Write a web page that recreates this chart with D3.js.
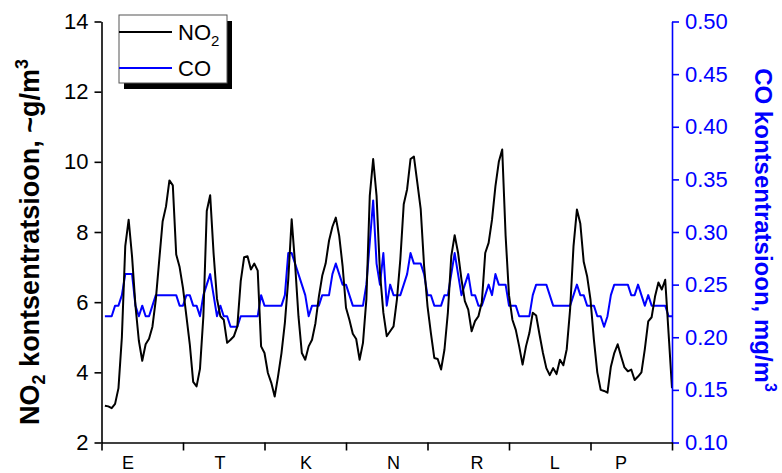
<!DOCTYPE html>
<html>
<head>
<meta charset="utf-8">
<script src="https://cdn.jsdelivr.net/npm/d3@7/dist/d3.min.js"></script>
<style>
  html, body { margin: 0; padding: 0; background: #fff; }
  svg { display: block; font-family: "Liberation Sans", Arial, sans-serif; }
</style>
</head>
<body>
<svg id="chart" width="782" height="473"></svg>
<script>
// Weekday labels (Estonian), one per 24-hour block
const days = ["E", "T", "K", "N", "R", "L", "P"];

// Hourly NO2 concentration over one week (168 hours)
const no2 = [
  3.05, 3.03, 2.98, 3.10, 3.55, 5.00, 7.60, 8.35, 7.30, 5.90, 4.90, 4.33,
  4.80, 4.96, 5.30, 6.08, 7.20, 8.30, 8.73, 9.47, 9.33, 7.36, 7.00, 6.40,
  5.60, 4.80, 3.73, 3.60, 4.10, 5.60, 8.60, 9.05, 7.40, 6.10, 5.60, 5.50,
  4.84, 4.93, 5.03, 5.31, 6.60, 7.28, 7.31, 6.93, 7.10, 6.90, 4.74, 4.55,
  3.98, 3.70, 3.31, 3.89, 4.55, 5.41, 6.65, 8.36, 7.10, 5.60, 4.55, 4.36,
  4.74, 4.93, 5.40, 6.15, 6.75, 7.10, 7.75, 8.15, 8.41, 7.89, 7.03, 5.84,
  5.50, 5.10, 4.95, 4.36, 4.84, 6.08, 9.03, 10.08, 9.03, 6.84, 5.70, 5.03,
  5.17, 5.31, 6.08, 7.22, 8.79, 9.22, 10.08, 10.15, 9.41, 8.65, 7.03, 5.89,
  5.12, 4.41, 4.38, 4.08, 4.65, 5.70, 7.31, 7.91, 7.41, 6.65, 6.03, 5.79,
  5.17, 5.46, 5.60, 6.00, 7.40, 7.69, 8.35, 9.30, 10.00, 10.35, 7.90, 6.20,
  5.50, 5.21, 4.74, 4.22, 4.74, 5.12, 5.70, 5.62, 5.07, 4.55, 4.12, 3.92,
  4.12, 3.95, 4.36, 4.20, 4.66, 5.80, 7.60, 8.64, 8.24, 7.15, 6.74, 6.07,
  4.93, 4.00, 3.50, 3.47, 3.42, 4.16, 4.55, 4.80, 4.46, 4.14, 4.03, 4.08,
  3.78, 3.88, 4.00, 4.66, 5.45, 5.57, 6.16, 6.56, 6.36, 6.64, 5.10, 3.55
];

// Hourly CO concentration over the same week
const co = [
  0.22, 0.22, 0.22, 0.23, 0.23, 0.24, 0.26, 0.26, 0.26, 0.23, 0.22, 0.23,
  0.22, 0.22, 0.23, 0.24, 0.24, 0.24, 0.24, 0.24, 0.24, 0.24, 0.23, 0.23,
  0.24, 0.24, 0.23, 0.23, 0.22, 0.24, 0.25, 0.26, 0.24, 0.22, 0.23, 0.22,
  0.22, 0.21, 0.21, 0.21, 0.22, 0.22, 0.22, 0.22, 0.22, 0.22, 0.24, 0.23,
  0.23, 0.23, 0.23, 0.23, 0.23, 0.24, 0.28, 0.28, 0.27, 0.26, 0.25, 0.24,
  0.22, 0.23, 0.23, 0.23, 0.24, 0.24, 0.24, 0.26, 0.27, 0.26, 0.25, 0.25,
  0.24, 0.23, 0.23, 0.23, 0.23, 0.25, 0.29, 0.33, 0.27, 0.25, 0.28, 0.23,
  0.25, 0.24, 0.24, 0.24, 0.25, 0.26, 0.28, 0.27, 0.27, 0.27, 0.26, 0.24,
  0.24, 0.23, 0.23, 0.23, 0.24, 0.24, 0.26, 0.28, 0.26, 0.24, 0.25, 0.26,
  0.24, 0.24, 0.23, 0.23, 0.24, 0.25, 0.24, 0.26, 0.25, 0.25, 0.25, 0.23,
  0.23, 0.23, 0.22, 0.22, 0.22, 0.22, 0.24, 0.25, 0.25, 0.25, 0.25, 0.24,
  0.23, 0.23, 0.23, 0.23, 0.23, 0.23, 0.24, 0.25, 0.24, 0.24, 0.23, 0.23,
  0.23, 0.22, 0.22, 0.21, 0.22, 0.24, 0.25, 0.25, 0.25, 0.25, 0.25, 0.24,
  0.24, 0.25, 0.24, 0.23, 0.24, 0.23, 0.23, 0.23, 0.23, 0.23, 0.22, 0.22
];

// Axis tick values
const no2Ticks = [2, 4, 6, 8, 10, 12, 14];
const coTicks = [0.10, 0.15, 0.20, 0.25, 0.30, 0.35, 0.40, 0.45, 0.50];
const hourTicks = [0, 24, 48, 72, 96, 120, 144, 168];

const BLUE = "#0000ff";
const svg = d3.select("#chart");

const x = d3.scaleLinear().domain([0, 168]).range([101.5, 672]);
const yL = d3.scaleLinear().domain([2, 14]).range([442.5, 21.5]);
const yR = d3.scaleLinear().domain([0.10, 0.50]).range([442.5, 21.5]);

// Series lines (hour i+1 for the i-th reading)
const lineNo2 = d3.line().x((d, i) => x(i + 1)).y(d => yL(d));
const lineCo = d3.line().x((d, i) => x(i + 1)).y(d => yR(d));

svg.append("path").datum(co)
  .attr("d", lineCo).attr("fill", "none")
  .attr("stroke", BLUE).attr("stroke-width", 2).attr("stroke-linejoin", "round");
svg.append("path").datum(no2)
  .attr("d", lineNo2).attr("fill", "none")
  .attr("stroke", "#000").attr("stroke-width", 2).attr("stroke-linejoin", "round");

// Left axis (NO2)
const axL = svg.append("g").attr("transform", `translate(${x(0)},0)`)
  .call(d3.axisLeft(yL).tickValues(no2Ticks).tickSize(7).tickPadding(6).tickSizeOuter(0));
axL.select(".domain").attr("stroke", "#000").attr("stroke-width", 1.6);
axL.selectAll(".tick line").attr("stroke", "#000").attr("stroke-width", 1.6);
axL.selectAll(".tick text").attr("font-size", 22).attr("fill", "#000")
  .attr("font-family", "Liberation Sans, Arial, sans-serif");

// Right axis (CO)
const axR = svg.append("g").attr("transform", `translate(${x(168)},0)`)
  .call(d3.axisRight(yR).tickValues(coTicks).tickFormat(d3.format(".2f"))
    .tickSize(7).tickPadding(6).tickSizeOuter(0));
axR.select(".domain").attr("stroke", BLUE).attr("stroke-width", 1.6);
axR.selectAll(".tick line").attr("stroke", BLUE).attr("stroke-width", 1.6);
axR.selectAll(".tick text").attr("font-size", 22).attr("fill", BLUE)
  .attr("font-family", "Liberation Sans, Arial, sans-serif");

// Bottom axis: day boundaries
const axB = svg.append("g").attr("transform", `translate(0,${yL(2)})`)
  .call(d3.axisBottom(x).tickValues(hourTicks).tickFormat("").tickSize(8).tickSizeOuter(0));
axB.select(".domain").attr("stroke", "#000").attr("stroke-width", 1.6);
axB.selectAll(".tick line").attr("stroke", "#000").attr("stroke-width", 1.6);

// Day names, hand-placed inside each 24-hour block (hour offset from block start)
const labelHour = [7.8, 10.9, 12.2, 14.0, 14.6, 13.5, 9.0];
svg.append("g").selectAll("text").data(days).join("text")
  .attr("x", (d, i) => x(i * 24 + labelHour[i]))
  .attr("y", 469)
  .attr("text-anchor", "middle")
  .attr("font-size", 18)
  .attr("fill", "#000")
  .text(d => d);

// Left axis title
const tL = svg.append("text")
  .attr("transform", "translate(39,242) rotate(-90)")
  .attr("text-anchor", "middle")
  .attr("font-size", 27).attr("font-weight", "bold").attr("fill", "#000");
tL.append("tspan").text("NO");
tL.append("tspan").attr("font-size", 18).attr("dy", 6).text("2");
tL.append("tspan").attr("dy", -6).text(" kontsentratsioon, ~g/m");
tL.append("tspan").attr("font-size", 18).attr("dy", -11).text("3");

// Right axis title
const tR = svg.append("text")
  .attr("transform", "translate(755,230) rotate(90)")
  .attr("text-anchor", "middle")
  .attr("font-size", 24).attr("font-weight", "bold").attr("fill", BLUE);
tR.append("tspan").text("CO kontsentratsioon, mg/m");
tR.append("tspan").attr("font-size", 16).attr("dy", -10).text("3");

// Legend with drop shadow
const lg = svg.append("g").attr("transform", "translate(119,15)");
lg.append("rect").attr("x", 5).attr("y", 6).attr("width", 108).attr("height", 68).attr("fill", "#000");
lg.append("rect").attr("width", 108).attr("height", 68)
  .attr("fill", "#fff").attr("stroke", "#555").attr("stroke-width", 1);
const items = [
  { name: "NO", sub: "2", color: "#000" },
  { name: "CO", sub: null, color: BLUE }
];
items.forEach((it, i) => {
  const cy = 17 + i * 36;
  lg.append("line").attr("x1", 0).attr("x2", 53).attr("y1", cy).attr("y2", cy)
    .attr("stroke", it.color).attr("stroke-width", 2);
  const t = lg.append("text").attr("x", 59).attr("y", cy + 8)
    .attr("font-size", 22).attr("fill", "#000");
  t.append("tspan").text(it.name);
  if (it.sub) t.append("tspan").attr("font-size", 15).attr("dy", 6).text(it.sub);
});
</script>
</body>
</html>
